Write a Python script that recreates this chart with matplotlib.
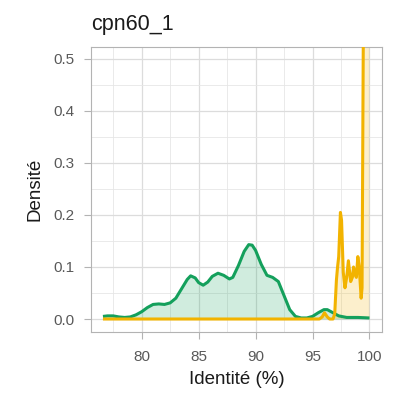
import matplotlib
matplotlib.use("Agg")
import matplotlib.pyplot as plt
import numpy as np

title = "cpn60_1"
xlabel = "Identité (%)"
ylabel = "Densité"

green_x = [76.6, 77.0, 77.5, 78.0, 78.5, 79.0, 79.5, 80.0, 80.5, 81.0, 81.5, 82.0,
           82.5, 83.0, 83.5, 84.0, 84.3, 84.7, 85.0, 85.4, 85.8, 86.2, 86.7, 87.2,
           87.7, 88.0, 88.5, 89.0, 89.4, 89.7, 90.0, 90.5, 91.0, 91.5, 92.0, 92.5,
           93.0, 93.5, 94.0, 94.5, 95.0, 95.5, 96.0, 96.3, 96.8, 97.3, 98.0, 99.0, 100.0]
green_y = [0.005, 0.006, 0.006, 0.004, 0.003, 0.004, 0.008, 0.014, 0.022, 0.028, 0.029, 0.028,
           0.031, 0.040, 0.058, 0.076, 0.083, 0.079, 0.070, 0.065, 0.071, 0.082, 0.088, 0.084,
           0.077, 0.080, 0.103, 0.130, 0.143, 0.142, 0.132, 0.105, 0.084, 0.080, 0.072, 0.045,
           0.018, 0.005, 0.002, 0.002, 0.005, 0.012, 0.018, 0.018, 0.012, 0.006, 0.003, 0.003, 0.002]

yellow_x = [76.6, 95.6, 95.85, 96.05, 96.3, 96.5, 96.8, 96.95, 97.1, 97.2, 97.3, 97.45,
            97.55, 97.7, 97.85, 98.0, 98.15, 98.35, 98.5, 98.6, 98.75, 98.85, 98.98, 99.1,
            99.27, 99.35, 99.45, 99.55, 100.0]
yellow_y = [0.0, 0.0, 0.004, 0.012, 0.004, 0.0, 0.0, 0.01, 0.075, 0.10, 0.12, 0.205,
            0.19, 0.09, 0.06, 0.08, 0.112, 0.072, 0.08, 0.10, 0.085, 0.08, 0.12, 0.10,
            0.04, 0.06, 0.5, 0.9, 1.2]

xticks = [80, 85, 90, 95, 100]
yticks = [0.0, 0.1, 0.2, 0.3, 0.4, 0.5]

plt.rcParams['font.family'] = ['Liberation Sans', 'DejaVu Sans']

GREEN = "#14A05C"
YELLOW = "#F2B300"

fig = plt.figure(figsize=(3.96, 3.93), dpi=100)
ax = fig.add_axes([0.2298, 0.1552, 0.9646 - 0.2298, 0.8804 - 0.1552])

ax.set_xlim(75.55, 101.1)
ax.set_ylim(-0.025, 0.523)

# grid
for v in np.arange(77.5, 101, 2.5):
    ax.axvline(v, color="#E6E6E6" if v % 5 else "#DCDCDC", lw=0.6 if v % 5 else 0.9, zorder=0)
for v in np.arange(0, 0.52, 0.05):
    major = abs(round(v / 0.1) * 0.1 - v) < 1e-9
    ax.axhline(v, color="#DCDCDC" if major else "#E6E6E6", lw=0.9 if major else 0.6, zorder=0)

ax.fill_between(green_x, green_y, 0, color=GREEN, alpha=0.2, lw=0, zorder=1)
ax.fill_between(yellow_x, yellow_y, 0, color=YELLOW, alpha=0.2, lw=0, zorder=1)
ax.plot(green_x, green_y, color=GREEN, lw=2.2, zorder=3, solid_capstyle='butt')
ax.plot(yellow_x, yellow_y, color=YELLOW, lw=2.2, zorder=4, solid_capstyle='butt')

ax.set_xticks(xticks)
ax.set_xticklabels([str(t) for t in xticks])
ax.set_yticks(yticks)
ax.set_yticklabels([f"{t:.1f}" for t in yticks])
ax.tick_params(axis='both', colors="#B3B3B3", length=5, width=0.8, labelsize=11,
               labelcolor="#595959")
ax.tick_params(axis='x', pad=8)
ax.tick_params(axis='y', pad=7)
for s in ax.spines.values():
    s.set_color("#B3B3B3")
    s.set_linewidth(0.8)

ax.set_xlabel(xlabel, fontsize=13.5, color="#1A1A1A", labelpad=5)
ax.set_ylabel(ylabel, fontsize=13.5, color="#1A1A1A", labelpad=7)
ax.set_title(title, loc='left', fontsize=15.5, color="#1A1A1A", pad=12)

fig.savefig("out.png", dpi=100)
